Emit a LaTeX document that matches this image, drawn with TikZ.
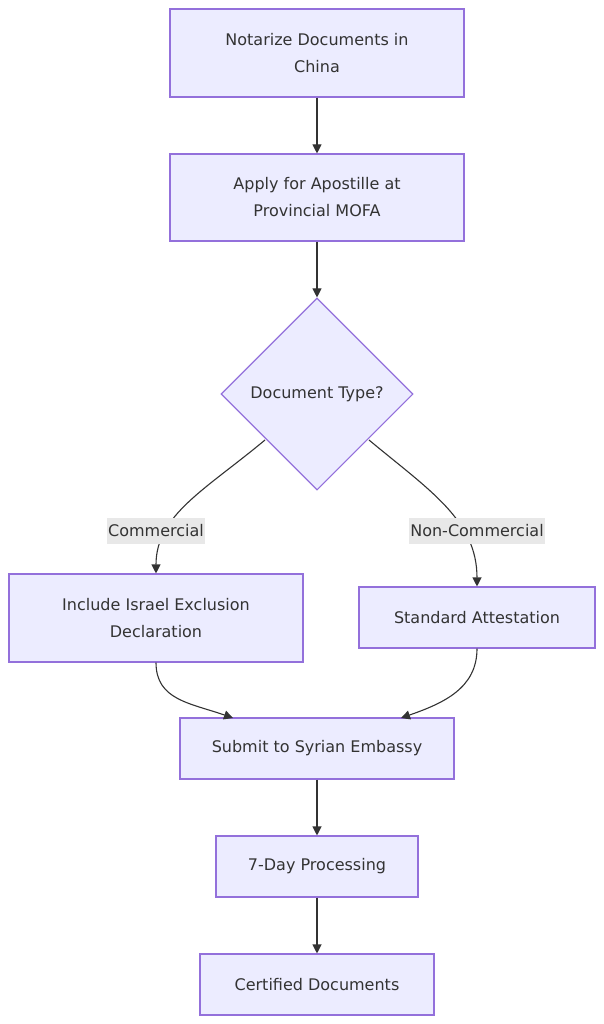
\documentclass[tikz,border=0pt]{standalone}
\usepackage{fontspec}
\setmainfont{DejaVu Sans}
\usetikzlibrary{shapes.geometric,arrows.meta}
\definecolor{boxfill}{HTML}{ECECFF}
\definecolor{boxline}{HTML}{9370DB}
\definecolor{edgeline}{HTML}{333333}
\definecolor{lblbg}{HTML}{E8E8E8}
\begin{document}
\begin{tikzpicture}[x=1pt,y=-1pt,
  every node/.style={font=\fontsize{16}{27}\selectfont, text=edgeline},
  box/.style={draw=boxline, fill=boxfill, line width=1.1pt, rectangle, inner sep=0pt, align=center},
  dec/.style={draw=boxline, fill=boxfill, line width=1.1pt, diamond, aspect=1, inner sep=0pt, minimum width=192pt, minimum height=192pt},
  lbl/.style={fill=lblbg, inner xsep=1pt, inner ysep=0pt, minimum height=26pt},
  conn/.style={draw=edgeline, line width=1.1pt, -{Triangle[length=9pt,width=9pt]}}]
\useasboundingbox (0,0) rectangle (604,1024);
\node[box, minimum width=294pt, minimum height=88pt] (A) at (317,53) {Notarize Documents in\\China};
\node[box, minimum width=294pt, minimum height=87pt] (B) at (317,197.5) {Apply for Apostille at\\Provincial MOFA};
\node[dec] (C) at (317,394) {Document Type?};
\node[box, minimum width=294pt, minimum height=88pt] (D) at (156,618) {Include Israel Exclusion\\Declaration};
\node[box, minimum width=236pt, minimum height=61pt] (E) at (477,617.5) {Standard Attestation};
\node[box, minimum width=274pt, minimum height=61pt] (F) at (317,748.5) {Submit to Syrian Embassy};
\node[box, minimum width=202pt, minimum height=61pt] (G) at (317,866.5) {7-Day Processing};
\node[box, minimum width=234pt, minimum height=61pt] (H) at (317,984.5) {Certified Documents};
\coordinate (Cl) at (265,440);
\coordinate (Cr) at (369,440);
\coordinate (Fl) at (233,718);
\coordinate (Fr) at (401,718);
\draw[conn] (A) -- (B);
\draw[conn] (B) -- (C);
\draw[conn] (Cl) .. controls (205,490) and (156,515) .. (D.north);
\draw[conn] (Cr) .. controls (429,490) and (477,520) .. (E.north);
\node[lbl] (L1) at (156,531) {Commercial};
\node[lbl] (L2) at (477,531) {Non-Commercial};
\draw[conn] (D.south) .. controls (156,700) and (190,703) .. (Fl);
\draw[conn] (E.south) .. controls (477,688) and (444,703) .. (Fr);
\draw[conn] (F) -- (G);
\draw[conn] (G) -- (H);
\end{tikzpicture}
\end{document}
